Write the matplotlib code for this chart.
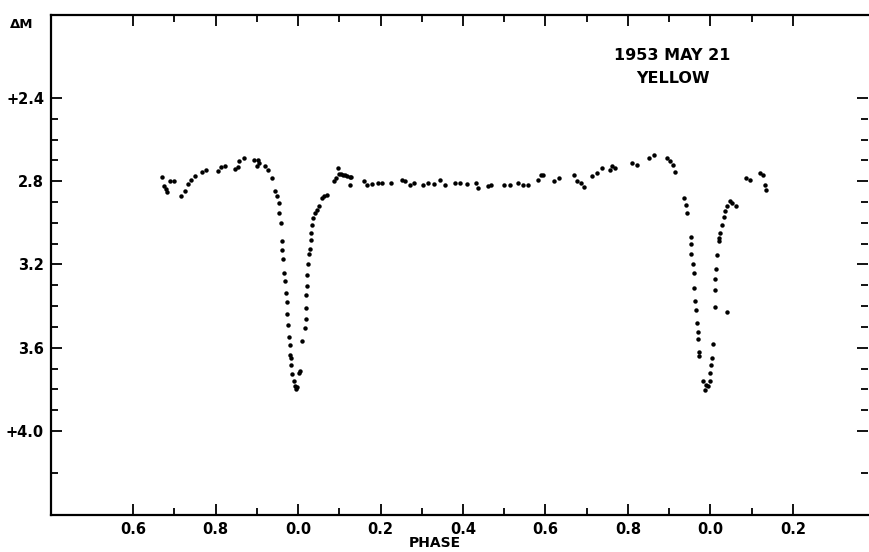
import matplotlib.pyplot as plt
from matplotlib.ticker import FixedLocator, FuncFormatter

# light curve, 1953 May 21, yellow -- phase runs on past 1.0 (labels wrap)
phase_pre = [0.669, 0.675, 0.680, 0.683, 0.689, 0.699, 0.717, 0.725, 0.733, 0.741,
             0.749, 0.768, 0.778, 0.806, 0.814, 0.824, 0.846, 0.854, 0.858, 0.870,
             0.894, 0.902, 0.900, 0.906, 0.920, 0.926, 0.938]
dmag_pre = [2.779, 2.821, 2.837, 2.853, 2.799, 2.801, 2.869, 2.848, 2.813, 2.792,
            2.776, 2.757, 2.747, 2.752, 2.731, 2.725, 2.741, 2.731, 2.704, 2.688,
            2.699, 2.696, 2.728, 2.712, 2.728, 2.744, 2.784]

phase_min1 = [0.945, 0.948, 0.953, 0.954, 0.958, 0.962, 0.962, 0.964, 0.965, 0.968,
              0.970, 0.973, 0.974, 0.976, 0.978, 0.980, 0.981, 0.982, 0.984, 0.986,
              0.990, 0.993, 0.994, 0.998, 1.002, 1.005, 1.010, 1.016, 1.019, 1.019,
              1.020, 1.021, 1.022, 1.025, 1.027, 1.029, 1.031, 1.032, 1.034, 1.036,
              1.041, 1.047, 1.051, 1.059, 1.063, 1.071]
dmag_min1 = [2.845, 2.872, 2.904, 2.952, 3.000, 3.088, 3.132, 3.176, 3.241, 3.281,
             3.337, 3.380, 3.438, 3.489, 3.550, 3.585, 3.633, 3.650, 3.685, 3.726,
             3.762, 3.786, 3.797, 3.790, 3.722, 3.713, 3.569, 3.505, 3.462, 3.409,
             3.348, 3.305, 3.249, 3.200, 3.152, 3.125, 3.080, 3.049, 3.012, 2.976,
             2.952, 2.936, 2.920, 2.880, 2.872, 2.867]

phase_max = [1.087, 1.091, 1.097, 1.099, 1.103, 1.108, 1.115, 1.119, 1.127, 1.129,
             1.127, 1.159, 1.167, 1.180, 1.195, 1.203, 1.225, 1.251, 1.260, 1.272,
             1.280, 1.304, 1.316, 1.330, 1.344, 1.356, 1.380, 1.392, 1.410, 1.432,
             1.436, 1.460, 1.468, 1.500, 1.513, 1.533, 1.545, 1.557, 1.581, 1.589,
             1.593, 1.621, 1.633, 1.669, 1.677, 1.685, 1.693, 1.713, 1.725, 1.737,
             1.757, 1.761, 1.769, 1.810, 1.822, 1.850, 1.862, 1.894, 1.902, 1.910,
             1.914]
dmag_max = [2.800, 2.784, 2.736, 2.765, 2.765, 2.771, 2.771, 2.776, 2.781, 2.781,
            2.816, 2.800, 2.816, 2.812, 2.808, 2.808, 2.810, 2.792, 2.800, 2.816,
            2.808, 2.816, 2.808, 2.812, 2.792, 2.816, 2.808, 2.808, 2.812, 2.808,
            2.832, 2.824, 2.816, 2.816, 2.816, 2.808, 2.816, 2.816, 2.792, 2.768,
            2.768, 2.800, 2.784, 2.768, 2.800, 2.808, 2.829, 2.776, 2.760, 2.736,
            2.744, 2.728, 2.736, 2.712, 2.720, 2.688, 2.672, 2.688, 2.704, 2.720,
            2.755]

phase_min2 = [1.936, 1.940, 1.944, 1.952, 1.953, 1.954, 1.958, 1.960, 1.961, 1.963,
              1.965, 1.967, 1.969, 1.970, 1.973, 1.973, 1.982, 1.986, 1.990, 1.995,
              1.998, 2.000, 2.002, 2.004, 2.005, 2.010, 2.012, 2.012, 2.014, 2.017,
              2.020, 2.021, 2.024, 2.027, 2.032, 2.035, 2.039, 2.047, 2.053, 2.061,
              2.040, 2.087, 2.095, 2.119, 2.128, 2.133, 2.135]
dmag_min2 = [2.880, 2.912, 2.954, 3.069, 3.101, 3.152, 3.198, 3.242, 3.312, 3.377,
             3.419, 3.483, 3.525, 3.558, 3.621, 3.641, 3.762, 3.801, 3.777, 3.786,
             3.762, 3.722, 3.681, 3.650, 3.580, 3.406, 3.325, 3.270, 3.223, 3.156,
             3.088, 3.075, 3.049, 3.008, 2.971, 2.943, 2.920, 2.896, 2.904, 2.920,
             3.426, 2.784, 2.792, 2.760, 2.769, 2.816, 2.843]

x_major = [0.6, 0.8, 1.0, 1.2, 1.4, 1.6, 1.8, 2.0, 2.2]
x_minor = [0.7, 0.9, 1.1, 1.3, 1.5, 1.7, 1.9, 2.1]
y_major = [2.4, 2.8, 3.2, 3.6, 4.0]
y_labels = ['+2.4', '2.8', '3.2', '3.6', '+4.0']
y_minor = [2.5, 2.6, 2.7, 2.9, 3.0, 3.1, 3.3, 3.4, 3.5, 3.7, 3.8, 3.9, 4.2]

plt.rcParams['font.family'] = ['DejaVu Sans']
plt.rcParams['font.weight'] = 'bold'

fig = plt.figure(figsize=(8.7, 5.52), dpi=100)
ax = fig.add_axes([51 / 870, 1 - 515 / 552, (868 - 51) / 870, 500 / 552])

for ph, dm in [(phase_pre, dmag_pre), (phase_min1, dmag_min1),
               (phase_max, dmag_max), (phase_min2, dmag_min2)]:
    ax.plot(ph, dm, 'o', color='black', ms=3.2, mec='none')

ax.set_xlim(0.401, 2.382)
ax.set_ylim(4.404, 2.001)

ax.xaxis.set_major_locator(FixedLocator(x_major))
ax.xaxis.set_minor_locator(FixedLocator(x_minor))
ax.xaxis.set_major_formatter(FuncFormatter(lambda v, p: '%.1f' % (round(v, 1) % 1.0)))
ax.yaxis.set_major_locator(FixedLocator(y_major))
ax.yaxis.set_minor_locator(FixedLocator(y_minor))
ax.set_yticklabels(y_labels)

ax.tick_params(which='both', direction='in', top=True, right=True, width=1.3,
               labelsize=10.5, color='black')
ax.tick_params(which='major', length=8, pad=5)
ax.tick_params(which='minor', length=5)
for lab in ax.get_xticklabels() + ax.get_yticklabels():
    lab.set_fontweight('bold')

for s in ['left', 'bottom', 'top']:
    ax.spines[s].set_linewidth(1.6)
ax.spines['right'].set_visible(False)

ax.text(1.908, 2.197, '1953 MAY 21', ha='center', va='center', fontsize=11.5,
        fontweight='bold')
ax.text(1.908, 2.307, 'YELLOW', ha='center', va='center', fontsize=11.5,
        fontweight='bold')

fig.text(22 / 870, 1 - 24 / 552, '\u0394M', ha='center', va='center',
         fontsize=9.5, fontweight='bold')
fig.text(435 / 870, 1 - 543 / 552, 'PHASE', ha='center', va='center',
         fontsize=10, fontweight='bold')

fig.savefig('out.png', dpi=100, facecolor='white')
